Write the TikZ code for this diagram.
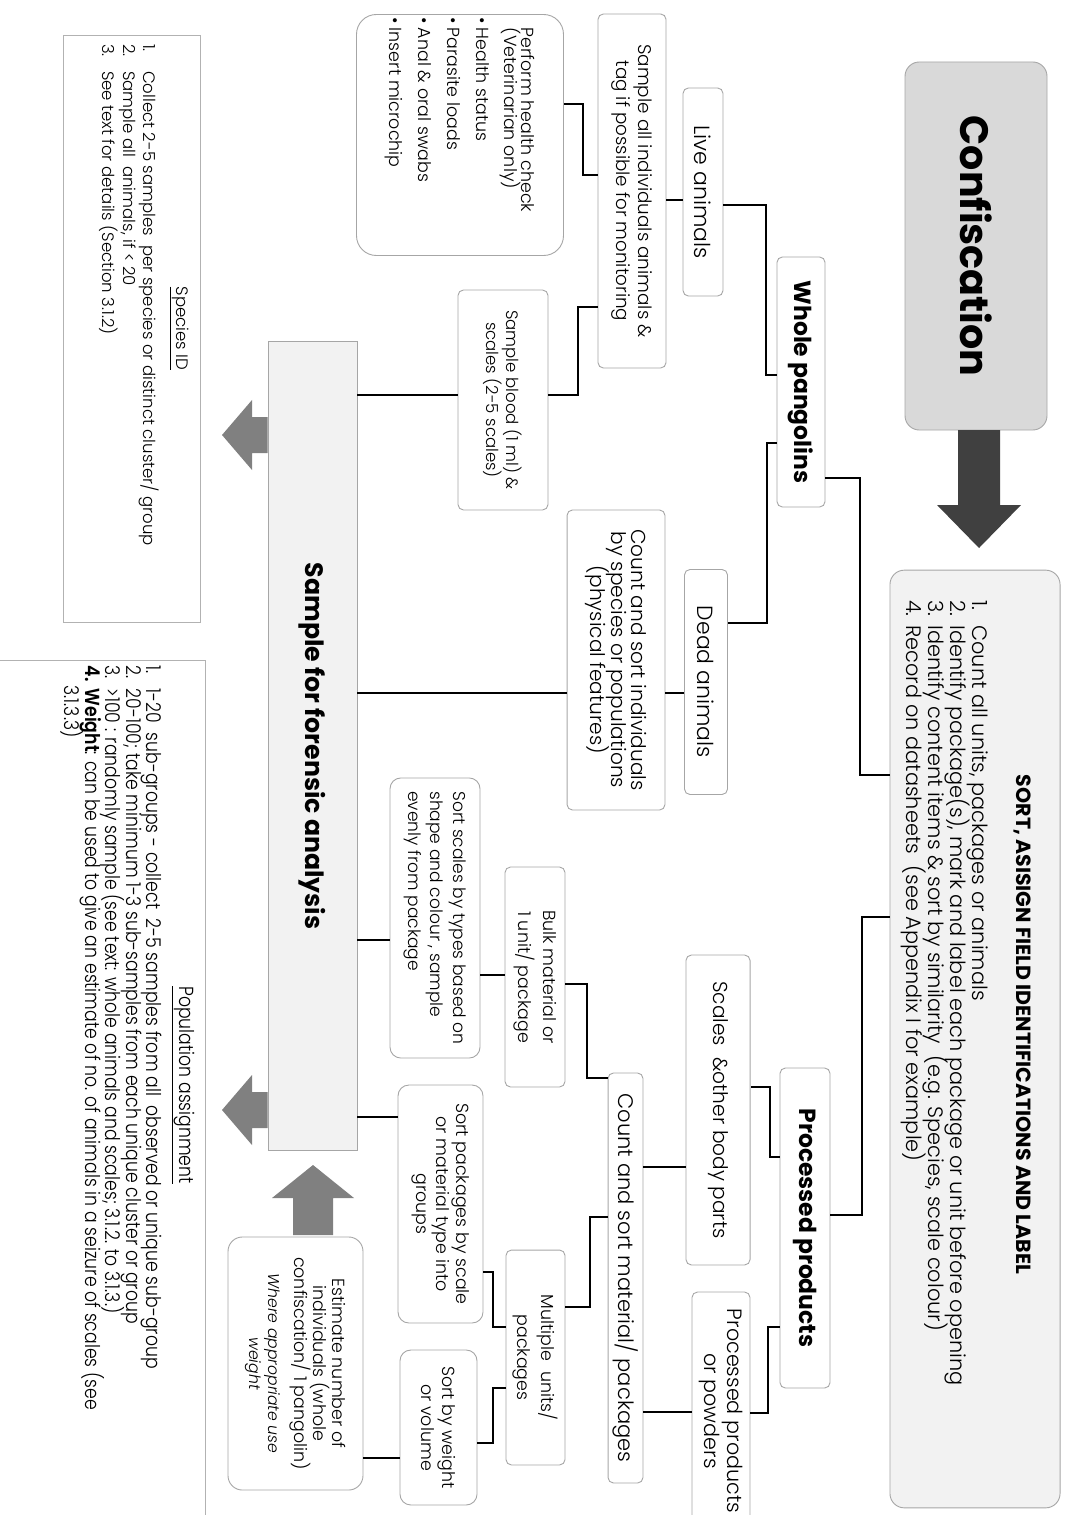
\documentclass[tikz,border=0pt]{standalone}
\usepackage{fontspec}
\setmainfont{Poppins Light}[BoldFont={Poppins Bold}, ItalicFont={Poppins Light Italic}]
\newfontfamily\condfont{Poppins Light}[FakeStretch=0.85, BoldFont={Poppins SemiBold}]
\usetikzlibrary{positioning, calc}
\newcommand{\nb}[2][14pt]{\makebox[#1][l]{#2}}

\begin{document}
\begin{tikzpicture}[x=0.5556pt, y=-0.5556pt,
        box/.style={draw=black!35, fill=white, rounded corners=3pt, rotate=-90,
                align=center, inner sep=2pt, line width=0.5pt,
                execute at begin node={\lineskiplimit=-20pt}},
        headbox/.style={box, font=\bfseries\fontsize{13}{15}\selectfont},
        link/.style={line width=1.6pt},
        fatarrow/.style={fill=black!50}]
    \useasboundingbox (0,0) rectangle (1071,1515);

    % top of the chart
    \node[box, fill=black!15, rounded corners=8pt, minimum width=204.5pt, minimum height=78.9pt,
        font=\bfseries\fontsize{22}{24}\selectfont] (conf) at (976,246) {Confiscation};
    \node[box, fill=black!5, rounded corners=8pt, minimum width=521pt, minimum height=94.5pt,
        align=left, inner xsep=16.7pt, font=\fontsize{11.6}{12.3}\selectfont] (sort) at (975,1039)
        {\makebox[487.6pt]{\rule{0pt}{18pt}\hspace*{-16pt}\bfseries\fontsize{11.4}{11.7}\selectfont SORT, ASISIGN FIELD IDENTIFICATIONS AND LABEL}\\[12pt]
         \nb{1.}Count all units, packages or animals\\
         \nb{2.}Identify package(s), mark and label each package or unit before opening\\
         \nb{3.}Identify content items \& sort by similarity~ (e.g. Species, scale colour)\\
         \nb{4.}Record on datasheets~ (see Appendix I for example)};
    \fill[black!75] (958,430) -- (1000,430) -- (1000,505) -- (1021,505) -- (979,548) -- (937,505) -- (958,505) -- cycle;

    % main branches
    \node[headbox, minimum width=138.9pt, minimum height=26.7pt] (wp) at (801,382) {Whole pangolins};
    \node[headbox, minimum width=177.8pt, minimum height=27.8pt] (pp) at (805,1228) {Processed products};

    % whole animals
    \node[box, minimum width=115.6pt, minimum height=22.2pt, font=\fontsize{12.2}{13}\selectfont] (live) at (703,192) {Live animals};
    \node[box, minimum width=125pt, minimum height=23.9pt, font=\fontsize{12.2}{13}\selectfont] (dead) at (706,682) {Dead animals};
    \node[box, minimum width=196.7pt, minimum height=37.8pt, font=\fontsize{10.2}{12.5}\selectfont] (sampleall) at (632,191)
        {Sample all individuals animals \&\\tag if possible for monitoring};
    \node[box, rounded corners=11pt, minimum width=133.9pt, minimum height=115pt, align=left,
        inner xsep=1pt, font=\fontsize{9.7}{9.3}\selectfont] (health) at (460,135)
        {\makebox[131pt][l]{\hspace*{6pt}Perform health check}\\
         \hspace*{6pt}(Veterinarian only)\\[6.7pt]
         \nb[6pt]{\textbullet}Health status\\[6.7pt]
         \nb[6pt]{\textbullet}Parasite loads\\[6.7pt]
         \nb[6pt]{\textbullet}Anal \& oral swabs\\[6.7pt]
         \nb[6pt]{\textbullet}Insert microchip};
    \node[box, minimum width=122.2pt, minimum height=50pt, font=\fontsize{9.2}{11}\selectfont] (blood) at (503,400)
        {Sample blood (1 ml) \&\\scales (2-5 scales)};
    \node[box, minimum width=166.7pt, minimum height=54.4pt, font=\fontsize{11.2}{11.2}\selectfont] (countind) at (616,660)
        {Count and sort individuals\\by species or populations\\(physical features)};

    % processed products
    \node[box, minimum width=172.2pt, minimum height=35.6pt, font=\fontsize{11.2}{12}\selectfont] (scalesbody) at (718,1110)
        {Scales~~\&other body parts};
    \node[box, minimum width=132.2pt, minimum height=32.2pt, font=\fontsize{11.5}{12.5}\selectfont] (powders) at (721,1411)
        {Processed products\\or powders};
    \node[box, minimum width=227.8pt, minimum height=19.4pt, font=\fontsize{11.7}{12}\selectfont] (countmat) at (625.5,1278)
        {Count and sort material/ packages};
    \node[box, minimum width=122.2pt, minimum height=33.3pt, font=\fontsize{9.7}{14}\selectfont] (bulk) at (535,977)
        {Bulk material or\\1 unit/ package};
    \node[box, minimum width=119.4pt, minimum height=32.8pt, font=\fontsize{9.7}{13}\selectfont] (multi) at (535.5,1357.5)
        {Multiple~~units/\\packages};
    \node[box, rounded corners=6pt, minimum width=155.6pt, minimum height=50pt, align=left,
        font=\fontsize{9.5}{12.5}\selectfont] (sortscales) at (435,918)
        {Sort scales by types based on\\shape and colour , sample\\evenly from package};
    \node[box, rounded corners=6pt, minimum width=132.2pt, minimum height=47.2pt, font=\fontsize{9.7}{11}\selectfont] (sortpack) at (440.5,1204)
        {Sort packages by scale\\or material type into\\groups};
    \node[box, rounded corners=6pt, minimum width=86.1pt, minimum height=42.8pt, font=\fontsize{9.7}{12}\selectfont] (sortweight) at (438.5,1427.5)
        {Sort by weight\\or volume};

    % sampling
    \node[box, rounded corners=0pt, fill=black!5, minimum width=449pt, minimum height=49.4pt,
        font=\bfseries\fontsize{14}{15}\selectfont] (forensic) at (312.5,746) {Sample for forensic analysis};
    \node[box, rounded corners=8pt, minimum width=140.6pt, minimum height=75pt, font=\fontsize{9.7}{10.5}\selectfont] (estimate) at (295.5,1363.5)
        {Estimate number of\\individuals (whole\\confiscation/ 1 pangolin)\\[4pt]
         {\itshape\fontsize{8.7}{9.5}\selectfont Where appropriate use}\\{\itshape\fontsize{8.7}{9.5}\selectfont weight}};
    \fill[fatarrow] (forensic.south |- 0,417) -- (252,417) -- (252,400) -- (222,435) -- (252,470) -- (252,453) -- (forensic.south |- 0,453) -- cycle;
    \fill[fatarrow] (forensic.south |- 0,1092) -- (252,1092) -- (252,1075) -- (222,1110) -- (252,1145) -- (252,1128) -- (forensic.south |- 0,1128) -- cycle;
    \fill[fatarrow] (293,1235) -- (293,1198) -- (272,1198) -- (313,1165) -- (354,1198) -- (333,1198) -- (333,1235) -- cycle;

    % notes
    \node[box, rounded corners=0pt, draw=black!30, minimum width=326.1pt, minimum height=76.1pt,
        align=left, inner xsep=5pt, font=\fontsize{9.2}{11.4}\selectfont] (speciesid) at (131.5,328.5)
        {\makebox[316pt]{\underline{Species ID}}\\[7pt]
         \nb[15pt]{1.}Collect 2-5 samples~ per species or distinct cluster/ group\\
         \nb[15pt]{2.}Sample all~ animals, if < 20\\
         \nb[15pt]{3.}See text for details (Section 3.1.2)\rule[-16pt]{0pt}{1pt}};
    \node[box, rounded corners=0pt, draw=black!30, minimum width=483.3pt,
        align=left, inner xsep=3pt, inner ysep=6pt, font=\condfont\fontsize{11.3}{11.4}\selectfont] (popassign) at (97.5,1095)
        {\makebox[477pt]{\hspace*{-11pt}\underline{Population assignment}}\\[7pt]
         \nb[12.8pt]{1.}1-20~ sub-groups - collect~ 2-5 samples from all~ observed or unique sub-group\\
         \nb[12.8pt]{2.}20-100; take minimum 1-3 sub-samples from each unique cluster or group\\
         \nb[12.8pt]{3.}>100 : randomly sample (see text: whole animals and scales; 3.1.2. to 3.1.3.)\\
         \nb[12.8pt]{\textbf{4.}}\textbf{Weight}: can be used to give an estimate of no. of animals in a seizure of scales (see\\
         \hspace*{11pt}3.1.3.3)\rule[-36pt]{0pt}{1pt}};

    % connectors
    \draw[link] (sort.south |- 0,775) -- (860,775) -- (860,478) -- (wp.north |- 0,478);
    \draw[link] (sort.south |- 0,917) -- (862,917) -- (862,1215) -- (pp.north |- 0,1215);
    \draw[link] (wp.south |- 0,375) -- (766,375) -- (766,205) -- (live.north |- 0,205);
    \draw[link] (wp.south |- 0,443) -- (767,443) -- (767,623) -- (dead.north |- 0,623);
    \draw[link] (live.south |- 0,200) -- (sampleall.north |- 0,200);
    \draw[link] (sampleall.south |- 0,175) -- (583,175) -- (583,104) -- (health.north |- 0,104);
    \draw[link] (sampleall.south |- 0,307) -- (578,307) -- (578,395) -- (blood.north |- 0,395);
    \draw[link] (blood.south |- 0,395) -- (forensic.north |- 0,395);
    \draw[link] (dead.south |- 0,693) -- (countind.north |- 0,693);
    \draw[link] (countind.south |- 0,693) -- (forensic.north |- 0,693);
    \draw[link] (pp.south |- 0,1157) -- (770,1157) -- (770,1087) -- (scalesbody.north |- 0,1087);
    \draw[link] (pp.south |- 0,1327) -- (768,1327) -- (768,1413) -- (powders.north |- 0,1413);
    \draw[link] (scalesbody.south |- 0,1167) -- (countmat.north |- 0,1167);
    \draw[link] (powders.south |- 0,1412) -- (countmat.north |- 0,1412);
    \draw[link] (countmat.south |- 0,1078) -- (587,1078) -- (587,984) -- (bulk.north |- 0,984);
    \draw[link] (countmat.south |- 0,1217) -- (590,1217) -- (590,1307) -- (multi.north |- 0,1307);
    \draw[link] (bulk.south |- 0,975) -- (sortscales.north |- 0,975);
    \draw[link] (sortscales.south |- 0,940) -- (forensic.north |- 0,940);
    \draw[link] (multi.south |- 0,1327) -- (493,1327) -- (493,1272) -- (sortpack.north |- 0,1272);
    \draw[link] (multi.south |- 0,1388) -- (493,1388) -- (493,1443) -- (sortweight.north |- 0,1443);
    \draw[link] (sortpack.south |- 0,1117) -- (forensic.north |- 0,1117);
    \draw[link] (sortweight.south |- 0,1458) -- (estimate.north |- 0,1458);
\end{tikzpicture}
\end{document}
